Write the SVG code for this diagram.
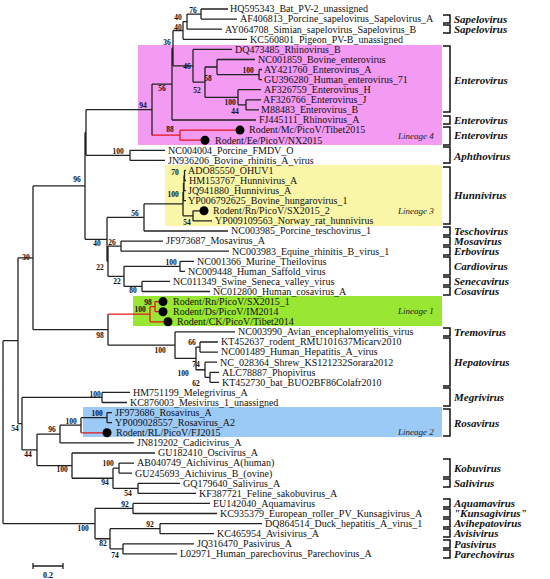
<svg xmlns="http://www.w3.org/2000/svg" width="550" height="579" viewBox="0 0 550 579">
<style>
.bg{fill:#fff}
.lf{font-family:"Liberation Serif",serif;font-size:10px;fill:#111}
.bs{font-family:"Liberation Serif",serif;font-size:7.5px;font-weight:bold;fill:#111;text-anchor:middle}
.gn{font-family:"Liberation Serif",serif;font-size:11px;font-weight:bold;font-style:italic;fill:#111}
.ln{font-family:"Liberation Serif",serif;font-size:9px;font-style:italic;fill:#222}
.tr{fill:none;stroke:#222;stroke-width:1.3}
.rd{fill:none;stroke:#e4141c;stroke-width:1.3}
.br{fill:none;stroke:#111;stroke-width:1.5}
.dot{fill:#000}
</style>
<rect class="bg" x="0" y="0" width="550" height="579"/>
<g id="lineage-boxes">
<rect id="lineage4" x="138" y="45" width="304" height="100" fill="#f39af3"/>
<rect id="lineage3" x="165" y="165" width="277" height="61" fill="#faf6a8"/>
<rect id="lineage1" x="133" y="296" width="309" height="30" fill="#99e633"/>
<rect id="lineage2" x="83" y="407" width="359" height="30" fill="#9ccaf7"/>
<text class="ln" x="398" y="139">Lineage 4</text>
<text class="ln" x="398" y="214">Lineage 3</text>
<text class="ln" x="398" y="314">Lineage 1</text>
<text class="ln" x="398" y="435" fill="#1a3a7a">Lineage 2</text>
</g>
<g id="connectors">
<path class="tr" d="M201 9V19.1M201 9H228M201 19.1H237
M187 14.05V29.2M187 14.05H201M187 29.2H222
M183 21.6V39.3M183 21.6H187M183 39.3H247
M259 69.5V79.6M259 69.5H262M259 79.6H262
M217 59.5V74.55M217 59.5H255M217 74.55H259
M246 99.8V109.9M246 99.8H261M246 109.9H259
M238 89.7V104.85M238 89.7H261M238 104.85H246
M205 67V97.3M205 67H217M205 97.3H238
M193 49.4V82.15M193 49.4H232M193 82.15H205
M173 30.5V65.8M173 30.5H183M173 65.8H193
M172 48.15V120M172 48.15H173M172 120H256
M152 84.1V135.15M152 84.1H172
M130 150.3V160.4M130 150.3H165M130 160.4H165
M86 109.6V155.35M86 109.6H152M86 155.35H130
M184.5 170.4V180.5M184.5 170.4H186M184.5 180.5H186
M184 175.45V190.6M184 190.6H186
M183.5 183V200.7M183.5 200.7H186
M193 210.8V220.9M193 210.8H200M193 220.9H212
M183 191.9V215.85M183 215.85H193
M144 203.9V231M144 203.9H183M144 231H228
M121 241.1V251.2M121 241.1H163M121 251.2H229
M180 261.3V271.4M180 261.3H194M180 271.4H185
M142 281.4V291.5M142 281.4H170M142 291.5H210
M124 266.35V286.45M124 266.35H180M124 286.45H142
M108 246.15V276.4M108 246.15H121M108 276.4H124
M107 217.4V261.3M107 217.4H144M107 261.3H108
M85 132.5V239.35M85 132.5H86M85 239.35H107
M200 342V352.1M200 342H218M200 352.1H218
M210 372.3V382.3M210 372.3H219M210 382.3H219
M205 362.2V377.3M205 362.2H217M205 377.3H210
M196 347.05V369.75M196 347.05H200M196 369.75H205
M175 331.9V358.4M175 331.9H235M175 358.4H196
M108 314.2V345.15M108 345.15H175
M33 185.9V329.7M33 185.9H85M33 329.7H108
M102 392.4V402.5M102 392.4H130M102 402.5H127
M107 412.6V422.7M107 412.6H112M107 422.7H112
M81 417.65V432.8M81 417.65H107
M60 425.2V442.9M60 425.2H81M60 442.9H134
M119 463.1V473.2M119 463.1H134M119 473.2H132
M138 483.3V493.4M138 483.3H180M138 493.4H196
M113 468.15V488.35M113 468.15H119M113 488.35H138
M72 453V478.25M72 453H155M72 478.25H113
M37 434.05V465.6M37 434.05H60M37 465.6H72
M22 397.45V449.8M22 397.45H102M22 449.8H37
M18 257.8V423.6M18 257.8H33M18 423.6H22
M133 503.4V513.5M133 503.4H210M133 513.5H217
M160 523.6V533.7M160 523.6H262M160 533.7H214
M123 543.8V553.9M123 543.8H194M123 553.9H177
M110 528.65V548.85M110 528.65H160M110 548.85H123
M95 508.45V538.75M95 508.45H133M95 538.75H110
M3 340.7V523.6M3 340.7H18M3 523.6H95"/>
<path class="rd" d="M152 135.15H180M180 130.1V140.2M180 130.1H236M180 140.2H201
M108 314.2H150M150 306.65V321.8M150 306.65H155M150 321.8H164M155 301.6V311.7M155 301.6H159M155 311.7H159
M81 432.8H103"/>
<path class="tr" d="M33 566H63M33 563V569M63 563V569"/>
</g>
<g id="bootstrap">
<text class="bs" x="193" y="13">76</text>
<text class="bs" x="178" y="20">40</text>
<text class="bs" x="178" y="29.5">40</text>
<text class="bs" x="167" y="45">36</text>
<text class="bs" x="187" y="69">46</text>
<text class="bs" x="208" y="81">58</text>
<text class="bs" x="248" y="73">100</text>
<text class="bs" x="197" y="93">52</text>
<text class="bs" x="230" y="105">100</text>
<text class="bs" x="235" y="114">44</text>
<text class="bs" x="162" y="91">56</text>
<text class="bs" x="143" y="108">94</text>
<text class="bs" x="170" y="132">88</text>
<text class="bs" x="118" y="154">100</text>
<text class="bs" x="77" y="182">96</text>
<text class="bs" x="175" y="175">70</text>
<text class="bs" x="173" y="197">100</text>
<text class="bs" x="187" y="225">54</text>
<text class="bs" x="135" y="216">56</text>
<text class="bs" x="97" y="246">40</text>
<text class="bs" x="112" y="245">26</text>
<text class="bs" x="100" y="270">22</text>
<text class="bs" x="117" y="284">22</text>
<text class="bs" x="171" y="265">100</text>
<text class="bs" x="133" y="293">80</text>
<text class="bs" x="148" y="305">98</text>
<text class="bs" x="140" y="312">100</text>
<text class="bs" x="100" y="338">98</text>
<text class="bs" x="160" y="353">100</text>
<text class="bs" x="192" y="345">66</text>
<text class="bs" x="183" y="376">100</text>
<text class="bs" x="196" y="367">74</text>
<text class="bs" x="196" y="386">62</text>
<text class="bs" x="26" y="260">30</text>
<text class="bs" x="95" y="397">100</text>
<text class="bs" x="97" y="416">100</text>
<text class="bs" x="71" y="424">100</text>
<text class="bs" x="52" y="432">96</text>
<text class="bs" x="15" y="431">54</text>
<text class="bs" x="28" y="457">44</text>
<text class="bs" x="62" y="472">100</text>
<text class="bs" x="108" y="466">100</text>
<text class="bs" x="105" y="485">94</text>
<text class="bs" x="128" y="496">54</text>
<text class="bs" x="125" y="507">92</text>
<text class="bs" x="150" y="527">92</text>
<text class="bs" x="83" y="531">100</text>
<text class="bs" x="103" y="546">82</text>
<text class="bs" x="115" y="558">74</text>
</g>
<g id="leaves">
<g id="n1"><text class="lf" x="230" y="12.3">HQ595343_Bat_PV-2_unassigned</text></g>
<g id="n2"><text class="lf" x="240" y="22.4">AF406813_Porcine_sapelovirus_Sapelovirus_A</text></g>
<g id="n3"><text class="lf" x="225" y="32.5">AY064708_Simian_sapelovirus_Sapelovirus_B</text></g>
<g id="n4"><text class="lf" x="250" y="42.6">KC560801_Pigeon_PV-B_unassigned</text></g>
<g id="n5"><text class="lf" x="235" y="52.7">DQ473485_Rhinovirus_B</text></g>
<g id="n6"><text class="lf" x="258" y="62.8">NC001859_Bovine_enterovirus</text></g>
<g id="n7"><text class="lf" x="264" y="72.8">AY421760_Enterovirus_A</text></g>
<g id="n8"><text class="lf" x="264" y="82.9">GU396280_Human_enterovirus_71</text></g>
<g id="n9"><text class="lf" x="264" y="93">AF326759_Enterovirus_H</text></g>
<g id="n10"><text class="lf" x="263" y="103.1">AF326766_Enterovirus_J</text></g>
<g id="n11"><text class="lf" x="261" y="113.2">M88483_Enterovirus_B</text></g>
<g id="n12"><text class="lf" x="259" y="123.3">FJ445111_Rhinovirus_A</text></g>
<g id="n13"><circle class="dot" cx="240" cy="130.1" r="4.5"/><text class="lf" x="249" y="133.4">Rodent/Mc/PicoV/Tibet2015</text></g>
<g id="n14"><circle class="dot" cx="205" cy="140.2" r="4.5"/><text class="lf" x="215" y="143.5">Rodent/Ee/PicoV/NX2015</text></g>
<g id="n15"><text class="lf" x="168" y="153.6">NC004004_Porcine_FMDV_O</text></g>
<g id="n16"><text class="lf" x="168" y="163.7">JN936206_Bovine_rhinitis_A_virus</text></g>
<g id="n17"><text class="lf" x="188" y="173.7">ADO85550_OHUV1</text></g>
<g id="n18"><text class="lf" x="189" y="183.8">HM153767_Hunnivirus_A</text></g>
<g id="n19"><text class="lf" x="188" y="193.9">JQ941880_Hunnivirus_A</text></g>
<g id="n20"><text class="lf" x="188" y="204">YP006792625_Bovine_hungarovirus_1</text></g>
<g id="n21"><circle class="dot" cx="204" cy="210.8" r="4.5"/><text class="lf" x="213" y="214.1">Rodent/Rn/PicoV/SX2015_2</text></g>
<g id="n22"><text class="lf" x="215" y="224.2">YP009109563_Norway_rat_hunnivirus</text></g>
<g id="n23"><text class="lf" x="231" y="234.3">NC003985_Porcine_teschovirus_1</text></g>
<g id="n24"><text class="lf" x="166" y="244.4">JF973687_Mosavirus_A</text></g>
<g id="n25"><text class="lf" x="232" y="254.5">NC003983_Equine_rhinitis_B_virus_1</text></g>
<g id="n26"><text class="lf" x="197" y="264.6">NC001366_Murine_Theilovirus</text></g>
<g id="n27"><text class="lf" x="188" y="274.7">NC009448_Human_Saffold_virus</text></g>
<g id="n28"><text class="lf" x="173" y="284.7">NC011349_Swine_Seneca_valley_virus</text></g>
<g id="n29"><text class="lf" x="213" y="294.8">NC012800_Human_cosavirus_A</text></g>
<g id="n30"><circle class="dot" cx="163" cy="301.6" r="4.5"/><text class="lf" x="173" y="304.9">Rodent/Rn/PicoV/SX2015_1</text></g>
<g id="n31"><circle class="dot" cx="163" cy="311.7" r="4.5"/><text class="lf" x="173" y="315">Rodent/Ds/PicoV/IM2014</text></g>
<g id="n32"><circle class="dot" cx="168" cy="321.8" r="4.5"/><text class="lf" x="177" y="325.1">Rodent/CK/PicoV/Tibet2014</text></g>
<g id="n33"><text class="lf" x="238" y="335.2">NC003990_Avian_encephalomyelitis_virus</text></g>
<g id="n34"><text class="lf" x="221" y="345.3">KT452637_rodent_RMU101637Micarv2010</text></g>
<g id="n35"><text class="lf" x="221" y="355.4">NC001489_Human_Hepatitis_A_virus</text></g>
<g id="n36"><text class="lf" x="220" y="365.5">NC_028364_Shrew_KS121232Sorara2012</text></g>
<g id="n37"><text class="lf" x="222" y="375.6">ALC78887_Phopivirus</text></g>
<g id="n38"><text class="lf" x="222" y="385.6">KT452730_bat_BUO2BF86Colafr2010</text></g>
<g id="n39"><text class="lf" x="133" y="395.7">HM751199_Melegrivirus_A</text></g>
<g id="n40"><text class="lf" x="130" y="405.8">KC876003_Mesivirus_1_unassigned</text></g>
<g id="n41"><text class="lf" x="115" y="415.9">JF973686_Rosavirus_A</text></g>
<g id="n42"><text class="lf" x="115" y="426">YP009028557_Rosavirus_A2</text></g>
<g id="n43"><circle class="dot" cx="107" cy="432.8" r="4.5"/><text class="lf" x="116" y="436.1">Rodent/RL/PicoV/FJ2015</text></g>
<g id="n44"><text class="lf" x="137" y="446.2">JN819202_Cadicivirus_A</text></g>
<g id="n45"><text class="lf" x="158" y="456.3">GU182410_Oscivirus_A</text></g>
<g id="n46"><text class="lf" x="137" y="466.4">AB040749_Aichivirus_A(human)</text></g>
<g id="n47"><text class="lf" x="135" y="476.5">GU245693_Aichivirus_B_(ovine)</text></g>
<g id="n48"><text class="lf" x="183" y="486.6">GQ179640_Salivirus_A</text></g>
<g id="n49"><text class="lf" x="199" y="496.7">KF387721_Feline_sakobuvirus_A</text></g>
<g id="n50"><text class="lf" x="213" y="506.7">EU142040_Aquamavirus</text></g>
<g id="n51"><text class="lf" x="220" y="516.8">KC935379_European_roller_PV_Kunsagivirus_A</text></g>
<g id="n52"><text class="lf" x="265" y="526.9">DQ864514_Duck_hepatitis_A_virus_1</text></g>
<g id="n53"><text class="lf" x="217" y="537">KC465954_Avisivirus_A</text></g>
<g id="n54"><text class="lf" x="197" y="547.1">JQ316470_Pasivirus_A</text></g>
<g id="n55"><text class="lf" x="180" y="557.2">L02971_Human_parechovirus_Parechovirus_A</text></g>
</g>
<g id="genera">
<path class="br" d="M443 15H450V23H443M443 25H450V33H443M443 46H450V112H443M443 116H450V124H443M443 127H450V145H443M443 147H450V163H443M443 167H450V224H443M443 227H450V235H443M443 237H450V245H443M443 247H450V255H443M443 257H450V275H443M443 277H450V285H443M443 287H450V295H443M443 328H450V336H443M443 338H450V386H443M443 388H450V406H443M443 409H450V436H443M443 459H450V477H443M443 479H450V487H443M443 499H450V507H443M443 509H450V517H443M443 519H450V527H443M443 529H450V537H443M443 540H450V548H443M443 550H450V558H443"/>
<text class="gn" x="454" y="22.8">Sapelovirus</text>
<text class="gn" x="454" y="32.8">Sapelovirus</text>
<text class="gn" x="454" y="83.8">Enterovirus</text>
<text class="gn" x="454" y="123.8">Enterovirus</text>
<text class="gn" x="454" y="138.8">Enterovirus</text>
<text class="gn" x="454" y="159.8">Aphthovirus</text>
<text class="gn" x="454" y="198.8">Hunnivirus</text>
<text class="gn" x="454" y="234.8">Teschovirus</text>
<text class="gn" x="454" y="244.8">Mosavirus</text>
<text class="gn" x="454" y="254.8">Erbovirus</text>
<text class="gn" x="454" y="269.8">Cardiovirus</text>
<text class="gn" x="454" y="284.8">Senecavirus</text>
<text class="gn" x="454" y="294.8">Cosavirus</text>
<text class="gn" x="454" y="335.8">Tremovirus</text>
<text class="gn" x="454" y="365.8">Hepatovirus</text>
<text class="gn" x="454" y="400.8">Megrivirus</text>
<text class="gn" x="454" y="426.8">Rosavirus</text>
<text class="gn" x="454" y="471.8">Kobuvirus</text>
<text class="gn" x="454" y="486.8">Salivirus</text>
<text class="gn" x="454" y="506.8">Aquamavirus</text>
<text class="gn" x="454" y="516.8">"Kunsagivirus"</text>
<text class="gn" x="454" y="526.8">Avihepatovirus</text>
<text class="gn" x="454" y="536.8">Avisivirus</text>
<text class="gn" x="454" y="547.8">Pasivirus</text>
<text class="gn" x="454" y="557.8">Parechovirus</text>
</g>
<g id="scale"><text class="bs" x="48" y="578" style="font-size:8px">0.2</text></g>
</svg>
